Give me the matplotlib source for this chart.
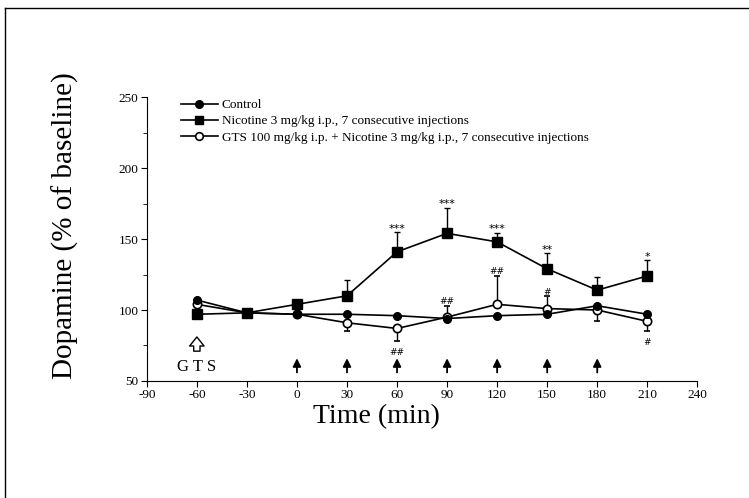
import numpy as np
import matplotlib.pyplot as plt
from matplotlib.lines import Line2D

plt.rcParams['font.family'] = ['Liberation Serif', 'DejaVu Serif']
plt.rcParams['axes.unicode_minus'] = False

# data
times = [-60, -30, 0, 30, 60, 90, 120, 150, 180, 210]
control = [107, 98, 97, 97, 96, 94, 96, 97, 103, 97]
nicotine = [97, 98, 104, 110, 141, 154, 148, 129, 114, 124]
nic_err_up = [0, 0, 0, 11, 14, 18, 6, 11, 9, 11]
gts = [104, 98, 97, 91, 87, 95, 104, 101, 100, 92]
gts_err_lo = [0, 0, 0, 6, 9, 0, 0, 0, 8, 7]
gts_err_up = [0, 0, 0, 0, 0, 8, 20, 9, 0, 0]

stars = {60: ('***', 157), 90: ('***', 175), 120: ('***', 157), 150: ('**', 142), 210: ('*', 137)}
hashes = {90: ('##', 106), 120: ('##', 127), 150: ('#', 112), 60: ('##', 70), 210: ('#', 77)}
inj_times = [0, 30, 60, 90, 120, 150, 180]

fig = plt.figure(figsize=(7.49, 4.98), dpi=100)
ax = fig.add_axes([0.196, 0.235, 0.735, 0.57])

ax.errorbar(times, nicotine, yerr=[np.zeros(10), nic_err_up], color='black', marker='s',
            ms=7, lw=1.2, capsize=2, elinewidth=1, zorder=3)
ax.errorbar(times, gts, yerr=[gts_err_lo, gts_err_up], color='black', marker='o', mfc='white',
            ms=6, mew=1.2, lw=1.2, capsize=2, elinewidth=1, zorder=4)
ax.plot(times, control, color='black', marker='o', ms=5.5, lw=1.2, zorder=5)

for t, (s, v) in stars.items():
    ax.text(t, v, s, ha='center', va='center', fontsize=8, family='DejaVu Sans')
for t, (s, v) in hashes.items():
    ax.text(t, v, s, ha='center', va='center', fontsize=6.5, family='DejaVu Sans')

for t in inj_times:
    ax.annotate('', xy=(t, 66), xytext=(t, 56),
                arrowprops=dict(arrowstyle='-|>', color='black', lw=1.3, mutation_scale=12,
                                shrinkA=0, shrinkB=0))
ax.annotate('', xy=(-60, 81), xytext=(-60, 71),
            arrowprops=dict(arrowstyle='simple,head_length=0.5,head_width=0.8,tail_width=0.35',
                            fc='white', ec='black', lw=1, mutation_scale=13, shrinkA=0, shrinkB=0))
ax.text(-60, 60, 'G T S', ha='center', va='center', fontsize=12)

ax.set_xlim(-90, 240)
ax.set_ylim(50, 250)
ax.set_xticks(np.arange(-90, 241, 30))
ax.set_yticks([50, 100, 150, 200, 250])
ax.set_yticks([75, 125, 175, 225], minor=True)
ax.spines['top'].set_visible(False)
ax.spines['right'].set_visible(False)
ax.tick_params(direction='out', length=4, labelsize=9.5, pad=2)
ax.tick_params(which='minor', direction='out', length=3)
ax.set_xlabel('Time (min)', fontsize=20)
ax.xaxis.set_label_coords(0.418, -0.082)
ax.set_ylabel('Dopamine (% of baseline)', fontsize=21)
ax.yaxis.set_label_coords(-0.124, 0.546)

handles = [
    Line2D([], [], color='black', marker='o', ms=5.5, lw=1.2),
    Line2D([], [], color='black', marker='s', ms=6, lw=1.2),
    Line2D([], [], color='black', marker='o', mfc='white', ms=5.5, mew=1.2, lw=1.2),
]
labels = ['Control', 'Nicotine 3 mg/kg i.p., 7 consecutive injections',
          'GTS 100 mg/kg i.p. + Nicotine 3 mg/kg i.p., 7 consecutive injections']
ax.legend(handles, labels, loc='upper left', bbox_to_anchor=(0.04, 1.035), frameon=False,
          fontsize=9.5, handlelength=2.8, labelspacing=0.3, handletextpad=0.3)

# page frame of the scan
fig.add_artist(Line2D([0.007, 1.0], [0.983, 0.983], color='black', lw=1))
fig.add_artist(Line2D([0.007, 0.007], [0.0, 0.983], color='black', lw=1))

fig.savefig('out.png', dpi=100)
